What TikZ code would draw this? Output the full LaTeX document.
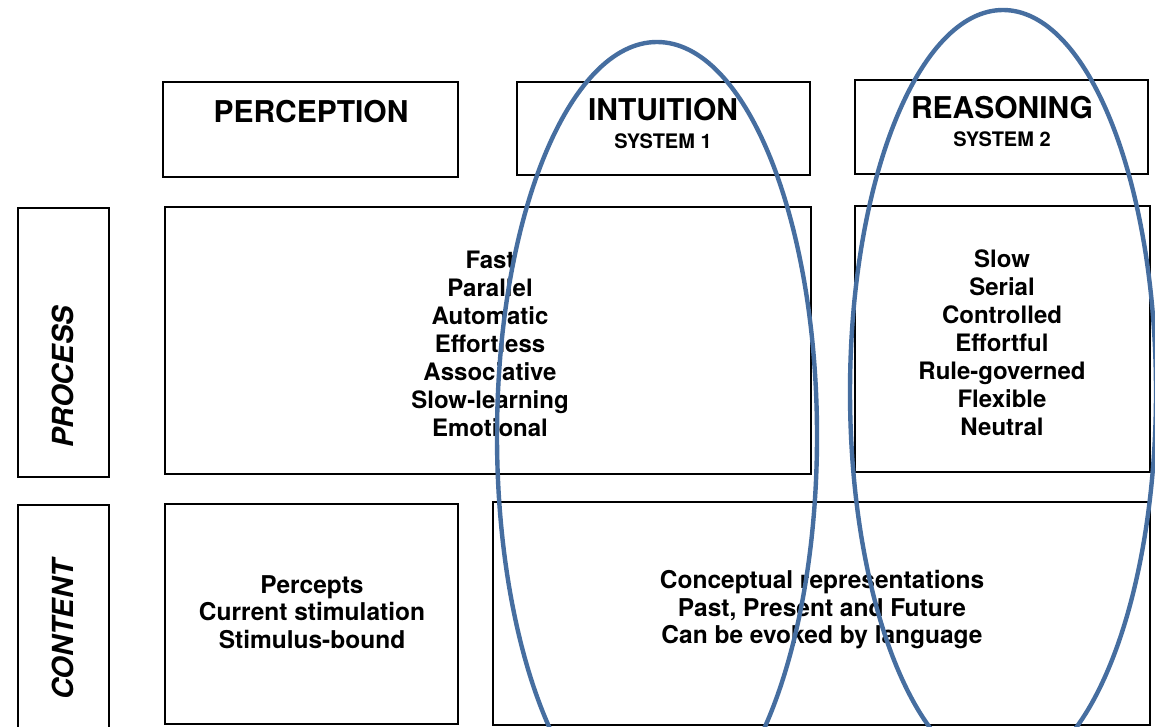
\documentclass[tikz,border=0pt]{standalone}
\usepackage{fontspec}
\setmainfont{TeX Gyre Heros}
\usepackage{tikz}
\usetikzlibrary{positioning}
\definecolor{ringblue}{RGB}{70,110,160}

\tikzset{
  cell/.style = {draw, line width=2.2pt, inner sep=0pt},
  head/.style = {font=\bfseries\fontsize{30}{34}\selectfont},
  subhead/.style = {font=\bfseries\fontsize{20}{24}\selectfont},
  side/.style = {font=\bfseries\itshape\fontsize{29}{34}\selectfont, rotate=90},
  body/.style = {font=\bfseries\fontsize{24}{28}\selectfont, align=center},
  ring/.style = {draw=ringblue, line width=4.4pt}
}

\begin{document}
\begin{tikzpicture}[x=1pt, y=-1pt]
\useasboundingbox (0,0) rectangle (1155,727);
\fill[white] (0,0) rectangle (1155,727);

% top row
\node[cell, minimum width=295, minimum height=95] (perc) at (310.5,129.5) {};
\node[cell, minimum width=293, minimum height=93] (intu) at (663.5,128.5) {};
\node[cell, minimum width=293, minimum height=94] (reas) at (1001.5,127) {};
\node[head] (percT) at (311,112) {PERCEPTION};
\node[head] (intuT) at (663,110) {INTUITION};
\node[subhead, below=5pt of intuT] (intuS) {SYSTEM 1};
\node[head] (reasT) at (1002,108) {REASONING};
\node[subhead, below=5pt of reasT] (reasS) {SYSTEM 2};

% process row
\node[cell, minimum width=91, minimum height=269] (proc) at (63.5,342.5) {};
\node[side] (procT) at (63,377) {PROCESS};
\node[cell, minimum width=646, minimum height=267] (procA) at (488,340.5) {};
\node[cell, minimum width=295, minimum height=266] (procB) at (1002.5,339) {};
\node[body] (procAT) at (490,344)
  {Fast\\Parallel\\Automatic\\Effortless\\Associative\\Slow-learning\\Emotional};
\node[body] (procBT) at (1002,343)
  {Slow\\Serial\\Controlled\\Effortful\\Rule-governed\\Flexible\\Neutral};

% content row
\node[cell, minimum width=91, minimum height=235] (cont) at (63.5,622.5) {};
\node[side] (contT) at (63,630) {CONTENT};
\node[cell, minimum width=293, minimum height=220] (contA) at (311.5,614) {};
\node[cell, minimum width=657, minimum height=223] (contB) at (821.5,613.5) {};
\node[body, font=\bfseries\fontsize{24.5}{27.5}\selectfont] (contAT) at (312,612)
  {Percepts\\Current stimulation\\Stimulus-bound};
\node[body, font=\bfseries\fontsize{24.5}{27.5}\selectfont] (contBT) at (822,610)
  {Conceptual representations\\Past, Present and Future\\Can be evoked by language};

% the two systems
\draw[ring] (657,436) ellipse [x radius=160, y radius=394];
\draw[ring] (1003,392) ellipse [x radius=153, y radius=382];
\end{tikzpicture}
\end{document}
